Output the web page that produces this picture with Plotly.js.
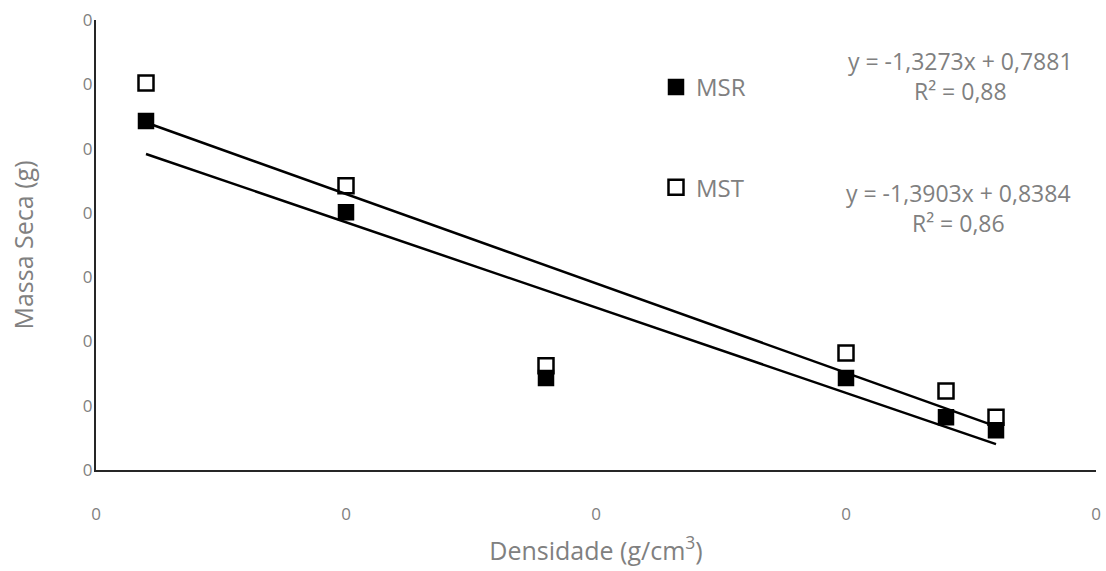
<!DOCTYPE html>
<html>
<head>
<meta charset="utf-8">
<script src="https://cdn.plot.ly/plotly-3.0.1.min.js"></script>
<style>html,body{margin:0;padding:0;background:#fff;}#chart{width:1106px;height:571px;}</style>
</head>
<body>
<div id="chart"></div>
<script>
// Data (scale fitted to the printed trendline equations)
const densidade = [0.02, 0.10, 0.18, 0.30, 0.34, 0.36];
const msr = [0.813, 0.671, 0.413, 0.413, 0.352, 0.332];
const mst = [0.872, 0.712, 0.432, 0.452, 0.393, 0.352];
// Trendline equations shown on the chart
const msrSlope = -1.3273, msrIntercept = 0.7881, msrR2 = "0,88";
const mstSlope = -1.3903, mstIntercept = 0.8384, mstR2 = "0,86";
// Axis ticks (all labels print as "0" in the original)
const xTicks = [0, 0.1, 0.2, 0.3, 0.4];
const yTicks = [0.27, 0.37, 0.47, 0.57, 0.67, 0.77, 0.87, 0.97];
const xTickText = ["0","0","0","0","0"];
const yTickText = ["0","0","0","0","0","0","0","0"];

const xMin = Math.min(...densidade), xMax = Math.max(...densidade);
const lineX = [xMin, xMax];
const font = "'Open Sans', Lato, sans-serif";
const fmt = v => String(v).replace('.', ',');

const traces = [
  {x: lineX, y: lineX.map(v => msrSlope*v + msrIntercept), mode: 'lines', line: {color: '#000', width: 2.5}, showlegend: false, hoverinfo: 'skip'},
  {x: lineX, y: lineX.map(v => mstSlope*v + mstIntercept), mode: 'lines', line: {color: '#000', width: 2.5}, showlegend: false, hoverinfo: 'skip'},
  {x: densidade, y: msr, name: 'MSR', mode: 'markers', legendgroup: 'a',
   marker: {symbol: 'square', size: 15, color: '#000', line: {color: '#000', width: 1.5}}},
  {x: densidade, y: mst, name: 'MST', mode: 'markers', legendgroup: 'b',
   marker: {symbol: 'square-open', size: 15, color: '#000', line: {color: '#000', width: 2.5}}}
];

const layout = {
  width: 1106, height: 571,
  margin: {l: 96, r: 10, t: 20, b: 101},
  paper_bgcolor: '#fff', plot_bgcolor: '#fff',
  font: {family: font, color: '#808080'},
  xaxis: {range: [0, 0.4], tickvals: xTicks, ticktext: xTickText, showgrid: false, zeroline: false,
    showline: true, linecolor: '#262626', linewidth: 2, ticks: '', tickfont: {size: 17, color: '#808080'},
    ticklabelstandoff: 28,
    title: {text: 'Densidade (g/cm<sup>3</sup>)', font: {size: 25, color: '#808080'}, standoff: 18}},
  yaxis: {range: [0.27, 0.97], tickvals: yTicks, ticktext: yTickText, showgrid: false, zeroline: false,
    showline: true, linecolor: '#262626', linewidth: 2, ticks: '', tickfont: {size: 17, color: '#808080'},
    ticklabelstandoff: -2,
    title: {text: 'Massa Seca (g)', font: {size: 25, color: '#808080'}, standoff: 42}},
  showlegend: true,
  legend: {x: 0.56, y: 0.9, xanchor: 'left', yanchor: 'top', bgcolor: 'rgba(0,0,0,0)',
    font: {size: 24, color: '#808080', family: font}, tracegroupgap: 66, itemwidth: 30},
  annotations: [
    {xref: 'paper', yref: 'paper', x: 0.864, y: 0.875,
     text: 'y = ' + fmt(msrSlope) + 'x + ' + fmt(msrIntercept) + '<br>R² = ' + msrR2,
     showarrow: false, font: {size: 23, color: '#808080', family: font}, align: 'center', xanchor: 'center', yanchor: 'middle'},
    {xref: 'paper', yref: 'paper', x: 0.862, y: 0.582,
     text: 'y = ' + fmt(mstSlope) + 'x + ' + fmt(mstIntercept) + '<br>R² = ' + mstR2,
     showarrow: false, font: {size: 23, color: '#808080', family: font}, align: 'center', xanchor: 'center', yanchor: 'middle'}
  ]
};

Plotly.newPlot('chart', traces, layout, {displayModeBar: false, staticPlot: true});
</script>
</body>
</html>
